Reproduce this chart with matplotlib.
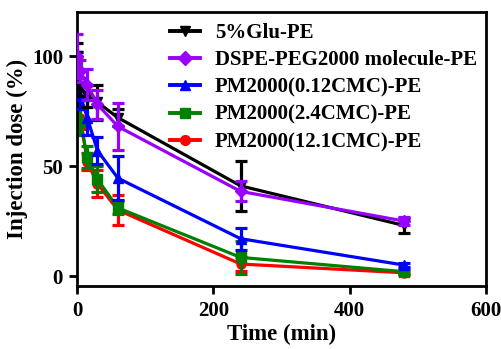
import numpy as np
import matplotlib.pyplot as plt
from matplotlib.lines import Line2D

plt.rcParams['font.family'] = ['Liberation Serif', 'DejaVu Serif']
plt.rcParams['font.weight'] = 'bold'

times = [0, 5, 15, 30, 60, 240, 480]

labels = ['5%Glu-PE', 'DSPE-PEG2000 molecule-PE', 'PM2000(0.12CMC)-PE',
          'PM2000(2.4CMC)-PE', 'PM2000(12.1CMC)-PE']

glu = [100, 86, 82, 79, 72, 41, 23]
glu_err = [6, 4, 5, 8, 4, 11.5, 3.5]
dspe = [100, 93, 87, 78, 68, 38.5, 25]
dspe_err = [10, 5, 7, 6.5, 10.5, 4.5, 2]
pm012 = [96, 82, 72, 57, 44.5, 17, 5]
pm012_err = [6, 6, 8, 6, 10, 5, 1]
pm24 = [97, 70, 54, 44, 31, 8.5, 2]
pm24_err = [5, 6, 5, 6, 3, 7.5, 1]
pm121 = [93, 72, 52, 42, 30, 5.5, 1.5]
pm121_err = [6, 5, 4, 6, 7, 3, 1]

series = [glu, dspe, pm012, pm24, pm121]
errors = [glu_err, dspe_err, pm012_err, pm24_err, pm121_err]
colors = ['black', '#9900FF', '#0000FF', '#008000', '#FF0000']
markers = ['v', 'D', '^', 's', 'o']
zorders = [4, 5, 3, 2, 1]

fig = plt.figure(figsize=(5.01, 3.49), dpi=100)
ax = fig.add_axes([0.1537, 0.1805, 0.8163, 0.7851])

handles = []
for vals, err, c, m, z, lab in zip(series, errors, colors, markers, zorders, labels):
    ax.errorbar(times, vals, yerr=err, color=c, marker=m, markersize=6.5,
                linewidth=2.3, elinewidth=2.3, capsize=4, capthick=2.3,
                zorder=z)
    handles.append(Line2D([], [], color=c, marker=m, markersize=7,
                          linewidth=2.8, label=lab))

ax.set_xlim(0, 600)
ax.set_ylim(-4.5, 120)
ax.set_xticks([0, 200, 400, 600])
ax.set_yticks([0, 50, 100])
ax.tick_params(width=2, length=6, labelsize=15, direction='out', pad=4)
ax.tick_params(axis='x', pad=5)
for s in ax.spines.values():
    s.set_linewidth(2)

ax.set_xlabel('Time (min)', fontsize=16.5, fontweight='bold', labelpad=2)
ax.set_ylabel('Injection dose (%)', fontsize=16.5, fontweight='bold', labelpad=3)

ax.legend(handles=handles, loc='upper left', frameon=False, fontsize=15,
          handlelength=1.44, handletextpad=0.72, labelspacing=0.35,
          borderaxespad=0.0, borderpad=0.0, bbox_to_anchor=(0.227, 0.96))

fig.savefig('out.png', dpi=100)
